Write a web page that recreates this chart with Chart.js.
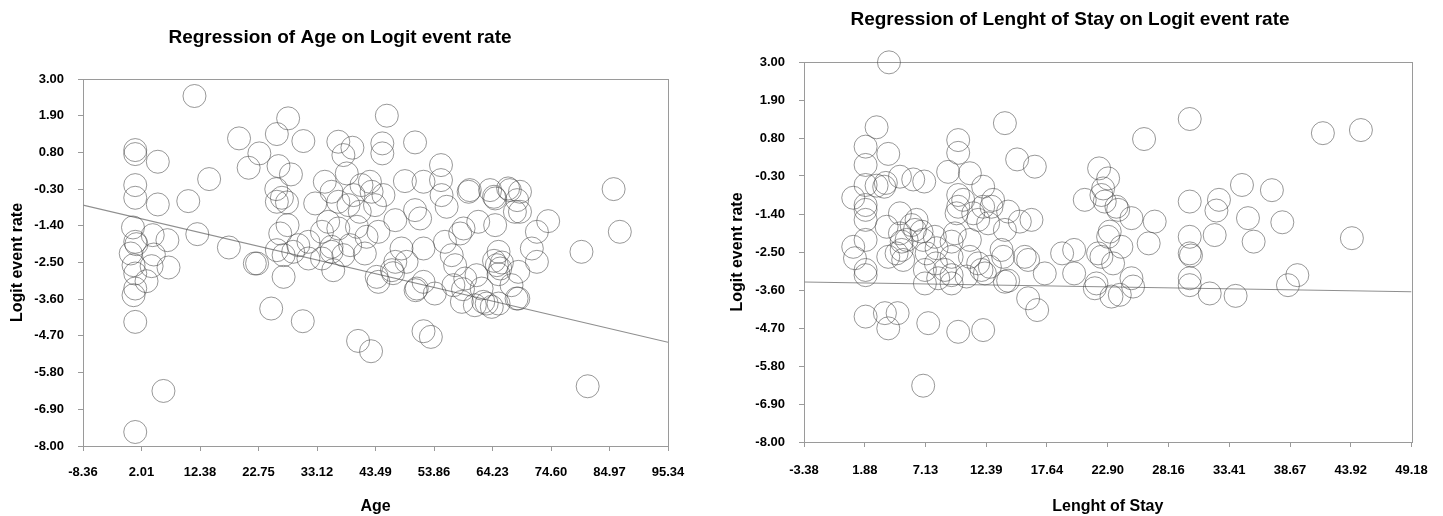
<!DOCTYPE html>
<html>
<head>
<meta charset="utf-8">
<script src="https://cdn.jsdelivr.net/npm/chart.js@4.4.1/dist/chart.umd.min.js"></script>
<style>
  html, body { margin: 0; padding: 0; background: #fff; }
  body { width: 1443px; height: 516px; position: relative; overflow: hidden; }
  canvas { position: absolute; top: 0; }
  #ageChart { left: 0; }
  #losChart { left: 720px; }
</style>
</head>
<body>
<canvas id="ageChart" width="700" height="516"></canvas>
<canvas id="losChart" width="723" height="516"></canvas>
<script>
// ---------- Data ----------
const logitTicks = [3.00, 1.90, 0.80, -0.30, -1.40, -2.50, -3.60, -4.70, -5.80, -6.90, -8.00];
const ageTicks = [-8.36, 2.01, 12.38, 22.75, 33.12, 43.49, 53.86, 64.23, 74.60, 84.97, 95.34];
const losTicks = [-3.38, 1.88, 7.13, 12.39, 17.64, 22.90, 28.16, 33.41, 38.67, 43.92, 49.18];

const ageX = [11.4, 0.9, 0.9, 4.9, 0.9, 0.9, 4.9, 14.0, 10.3, 19.3, 22.9, 21.0, 26.0, 28.0, 26.3, 28.5, 25.9, 26.9, 26.0, 27.8,
  27.9, 26.6, 26.0, 27.2, 28.9, 29.8, 27.2, 22.5, 25.0, 30.6, 17.5, 11.9, 0.5, 0.9, 4.0, 6.6, 0.1, 4.2, 0.6, 3.8,
  6.8, 0.9, 2.9, 0.9, 0.6, 0.9, 5.9, 0.9, 1.1, 30.7, 45.5, 36.9, 39.4, 37.8, 44.7, 44.7, 50.5, 55.1, 38.4, 34.5,
  48.7, 52.0, 55.1, 42.5, 60.0, 63.8, 67.0, 64.7, 68.2, 32.8, 35.7, 36.9, 39.6, 41.0, 42.8, 44.9, 38.7, 40.7, 43.4, 47.0,
  50.5, 51.4, 55.2, 56.1, 59.1, 58.5, 55.8, 61.7, 64.7, 35.1, 34.0, 36.9, 40.2, 41.9, 44.0, 31.6, 35.7, 39.0, 48.1, 52.0,
  65.3, 35.7, 37.8, 31.6, 34.0, 36.0, 41.6, 44.0, 43.7, 46.4, 47.0, 49.0, 50.8, 52.0, 54.0, 57.0, 57.6, 57.3, 58.8, 59.4,
  61.1, 62.6, 64.1, 65.3, 62.3, 65.0, 64.5, 65.6, 65.3, 65.9, 67.6, 68.5, 61.4, 40.4, 42.7, 52.0, 53.3, 85.7, 86.8, 74.1,
  72.1, 69.1, 69.1, 80.0, 71.2, 72.1, 68.8, 68.8, 81.1, 60.2, 64.5, 67.3, 68.6, 46.6, 50.6, 59.0, 63.2, 22.1];
const ageY = [2.49, 0.87, 0.75, 0.52, -0.18, -0.56, -0.76, 0.00, -0.66, 1.22, 0.77, 0.34, 1.35, 1.82, 0.39, 0.14, -0.30, -0.56, -0.68, -0.70,
  -1.38, -1.63, -2.13, -2.28, -2.18, -1.98, -2.93, -2.53, -3.88, -4.26, -2.05, -1.65, -1.45, -1.88, -1.68, -1.83, -2.23, -2.26, -2.58, -2.61,
  -2.65, -2.83, -3.06, -3.28, -3.48, -4.28, -6.35, -7.58, -1.95, 1.14, 1.90, 1.12, 0.94, 0.72, 1.07, 0.77, 1.10, 0.42, 0.17, -0.08,
  -0.06, -0.08, -0.03, -0.08, -0.38, -0.33, -0.28, -0.58, -0.98, -0.73, -0.38, -0.68, -0.48, -0.18, -0.38, -0.48, -0.78, -0.98, -0.78, -1.23,
  -0.93, -1.18, -0.48, -0.83, -1.48, -1.63, -1.88, -1.28, -1.38, -1.28, -1.58, -1.48, -1.43, -1.73, -1.58, -1.88, -2.03, -1.98, -2.08, -2.08,
  -2.18, -2.18, -2.28, -2.38, -2.38, -2.73, -2.23, -3.08, -2.93, -2.73, -2.48, -2.48, -3.28, -3.08, -3.43, -2.28, -2.58, -3.18, -3.68, -2.98,
  -3.78, -3.68, -3.83, -3.73, -3.28, -2.58, -2.45, -2.68, -2.85, -2.50, -3.18, -3.58, -2.88, -4.85, -5.16, -4.56, -4.73, -0.30, -1.58, -1.26,
  -1.58, -0.38, -0.98, -2.18, -2.08, -2.48, -2.78, -3.58, -6.21, -0.33, -0.53, -0.33, -0.63, -2.82, -3.33, -3.30, -3.73, -2.53];
const ageLineX = [-8.36, 95.34];
const ageLineY = [-0.78, -4.89];

const losX = [3.97, 2.90, 1.95, 3.91, 1.95, 1.95, 0.88, 3.56, 3.70, 4.92, 6.07, 7.02, 1.95, 1.95, 1.95, 3.77, 4.92, 4.92, 5.07, 5.07,
  6.36, 6.22, 6.79, 6.93, 7.94, 0.88, 1.03, 1.95, 1.95, 1.95, 3.91, 4.63, 5.20, 7.08, 7.08, 8.03, 8.81, 9.39, 9.39, 9.67,
  10.97, 10.97, 11.69, 11.98, 9.39, 9.96, 9.96, 9.09, 10.97, 9.96, 10.39, 9.96, 9.82, 11.26, 12.12, 11.69, 12.12, 1.95, 3.62, 3.91,
  4.72, 7.37, 9.96, 12.12, 6.93, 14.00, 15.06, 16.59, 12.98, 12.84, 14.28, 15.29, 16.30, 14.00, 12.55, 13.71, 13.85, 15.72, 16.01, 12.70,
  12.27, 14.00, 14.28, 17.45, 16.01, 16.79, 18.95, 19.99, 19.99, 20.91, 22.15, 22.93, 22.50, 22.35, 22.64, 23.65, 23.80, 24.95, 26.96, 26.44,
  23.07, 22.93, 24.08, 22.06, 22.35, 23.36, 21.78, 21.92, 23.22, 23.94, 24.95, 25.09, 26.04, 29.99, 29.99, 29.99, 29.99, 30.10, 29.99, 29.99,
  41.51, 44.80, 34.51, 37.10, 32.52, 32.30, 35.03, 38.00, 32.15, 35.52, 44.02, 39.30, 38.49, 31.72, 33.96, 2.90, 8.09, 7.23, 9.39, 8.23,
  10.68, 5.93, 5.50];
const losY = [2.99, 1.11, 0.55, 0.34, 0.02, -0.56, -0.93, -0.61, -0.50, -0.32, -0.40, -0.46, -1.14, -1.28, -1.57, -1.77, -1.38, -1.96, -2.20, -2.44,
  -1.57, -1.86, -1.91, -2.15, -2.06, -2.35, -2.68, -2.15, -3.02, -3.17, -2.64, -2.54, -2.73, -3.02, -3.41, -2.83, -3.02, -2.64, -2.20, -1.96,
  -2.15, -2.64, -2.83, -3.02, -3.41, 0.74, 0.37, -0.18, -0.22, -0.85, -0.99, -1.19, -1.38, -1.38, -1.19, -1.57, -0.61, -4.37, -4.27, -4.71,
  -4.27, -4.56, -4.81, -4.76, -6.37, 1.23, 0.18, -0.03, -0.99, -1.19, -1.33, -1.62, -1.57, -1.86, -1.67, -2.44, -2.64, -2.64, -2.73, -2.93,
  -3.12, -3.36, -3.33, -3.12, -3.84, -4.18, -2.54, -2.44, -3.12, -0.99, -0.08, -0.37, -0.66, -0.85, -1.04, -1.19, -1.28, -1.52, -1.62, -2.25,
  -1.91, -2.06, -2.35, -2.54, -2.64, -2.83, -3.55, -3.41, -3.79, -3.74, -3.26, -3.50, 0.77, 1.35, -1.04, -2.06, -2.54, -2.60, -3.26, -3.46,
  0.94, 1.03, -0.56, -0.71, -0.99, -1.30, -1.52, -1.64, -2.01, -2.20, -2.10, -3.17, -3.46, -3.70, -3.77, -0.58, -2.39, -2.54, -3.17, -3.26,
  -3.21, -1.72, -2.15];
const losLineX = [-3.38, 49.18];
const losLineY = [-3.37, -3.65];

// ---------- Chart builder ----------
Chart.defaults.font.family = "'Liberation Sans', Arial, Helvetica, sans-serif";
Chart.defaults.color = '#000';

const zip = (xs, ys) => xs.map((x, i) => ({ x, y: ys[i] }));

const framePlugin = {
  id: 'frame',
  beforeDatasetsDraw(chart) {
    const { ctx, chartArea: a } = chart;
    ctx.save();
    ctx.strokeStyle = '#9a9a9a';
    ctx.lineWidth = 1;
    ctx.strokeRect(Math.round(a.left) + 0.5, Math.round(a.top) + 0.5,
                   Math.round(a.right - a.left), Math.round(a.bottom - a.top));
    ctx.restore();
  }
};

function makeChart(id, cfg) {
  return new Chart(document.getElementById(id), {
    type: 'scatter',
    data: {
      datasets: [
        {
          data: zip(cfg.xs, cfg.ys),
          clip: false,
          pointStyle: 'circle',
          pointRadius: 11.5,
          pointHoverRadius: 11.5,
          backgroundColor: 'rgba(0,0,0,0)',
          borderColor: 'rgba(70,70,70,0.7)',
          borderWidth: 0.8
        },
        {
          type: 'line',
          data: zip(cfg.lineX, cfg.lineY),
          borderColor: '#8f8f8f',
          borderWidth: 1.1,
          pointRadius: 0,
          fill: false
        }
      ]
    },
    options: {
      responsive: false,
      animation: false,
      devicePixelRatio: 1,
      layout: { padding: { left: cfg.padLeft, right: cfg.padRight, top: 0, bottom: 0 } },
      plugins: {
        legend: { display: false },
        tooltip: { enabled: false },
        title: {
          display: true,
          text: cfg.title,
          color: '#000',
          font: { size: 19, weight: 'bold' },
          padding: { top: cfg.titleTop, bottom: cfg.titleBottom }
        }
      },
      scales: {
        x: {
          type: 'linear',
          min: cfg.xTicks[0],
          max: cfg.xTicks[cfg.xTicks.length - 1],
          afterBuildTicks: s => { s.ticks = cfg.xTicks.map(v => ({ value: v })); },
          afterFit: s => { s.height = cfg.xHeight; },
          ticks: {
            autoSkip: false, maxRotation: 0, minRotation: 0,
            padding: cfg.xTickPad,
            font: { size: 13, weight: 'bold' },
            color: '#000',
            callback: v => Number(v).toFixed(2)
          },
          grid: { display: true, drawOnChartArea: false, drawTicks: true, tickLength: 5, color: '#9a9a9a' },
          border: { display: false },
          title: {
            display: true, text: cfg.xTitle, color: '#000',
            font: { size: 16, weight: 'bold', lineHeight: 1.2 },
            padding: { top: 0, bottom: 0 }
          }
        },
        y: {
          type: 'linear',
          min: -8,
          max: 3,
          afterBuildTicks: s => { s.ticks = logitTicks.map(v => ({ value: v })); },
          afterFit: s => { s.width = cfg.yWidth; },
          ticks: {
            autoSkip: false,
            padding: 14,
            font: { size: 13, weight: 'bold' },
            color: '#000',
            callback: v => Number(v).toFixed(2)
          },
          grid: { display: true, drawOnChartArea: false, drawTicks: true, tickLength: 5, color: '#9a9a9a' },
          border: { display: false },
          title: {
            display: true, text: 'Logit event rate', color: '#000',
            font: { size: 16, weight: 'bold', lineHeight: 1 },
            padding: { top: cfg.yTitlePad, bottom: 0 }
          }
        }
      }
    },
    plugins: [framePlugin]
  });
}

makeChart('ageChart', {
  xs: ageX, ys: ageY, lineX: ageLineX, lineY: ageLineY,
  xTicks: ageTicks, title: 'Regression of Age on Logit event rate', xTitle: 'Age',
  padLeft: 12, padRight: 32, yWidth: 71, xHeight: 70, xTickPad: 13.2,
  titleTop: 26.6, titleBottom: 29.6, yTitlePad: -2
});

makeChart('losChart', {
  xs: losX, ys: losY, lineX: losLineX, lineY: losLineY,
  xTicks: losTicks, title: 'Regression of Lenght of Stay on Logit event rate', xTitle: 'Lenght of Stay',
  padLeft: 8, padRight: 31, yWidth: 76, xHeight: 74, xTickPad: 15.2,
  titleTop: 8.6, titleBottom: 30.6, yTitlePad: 2
});
</script>
</body>
</html>
